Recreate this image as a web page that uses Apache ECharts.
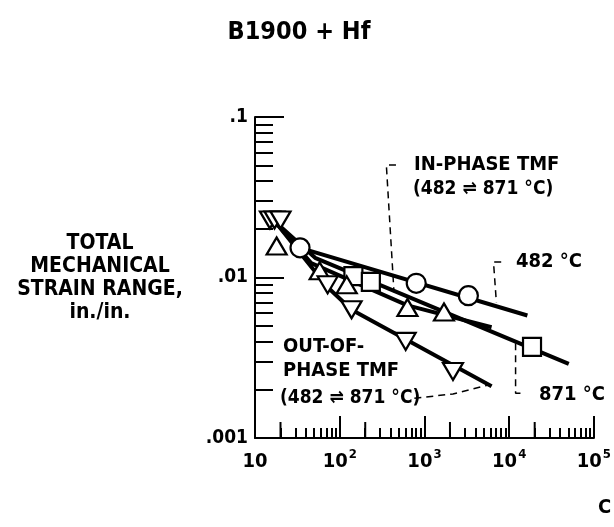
<!DOCTYPE html>
<html>
<head>
<meta charset="utf-8">
<script src="https://cdn.jsdelivr.net/npm/echarts@6/dist/echarts.min.js"></script>
<style>html,body{margin:0;padding:0;background:#fff}#c{width:614px;height:527px}</style>
</head>
<body>
<div id="c"></div>
<script>
// ---- data ----
const xTicks = [10, 100, 1000, 10000, 100000];
const xMidTicks = [20, 200, 2000, 20000];
const yTicks = [0.001, 0.01, 0.1];
const yTickLabels = ['.001', '.01', '.1'];

const circleN = [34, 800, 3300];
const circleS = [0.0153, 0.0092, 0.0077];
const squareN = [145, 233, 18600];
const squareS = [0.0102, 0.0094, 0.0037];
const upTriN = [18, 58, 121, 630, 1700];
const upTriS = [0.0157, 0.0110, 0.0090, 0.0065, 0.0061];
const downTriN = [15, 17, 20, 72, 138, 600, 2170];
const downTriS = [0.0228, 0.0228, 0.0228, 0.0090, 0.0063, 0.0040, 0.0026];

const line482N = [17.4, 34, 16400];
const line482S = [0.0222, 0.0153, 0.0058];
const line871N = [17.4, 52, 50500];
const line871S = [0.0222, 0.0132, 0.0029];
const lineInN = [17.4, 46, 630, 6200];
const lineInS = [0.0222, 0.0123, 0.0067, 0.0049];
const lineOutN = [17.4, 72, 138, 6200];
const lineOutS = [0.0222, 0.0087, 0.0063, 0.0021];

const leadInN = [461, 355, 437];
const leadInS = [0.0502, 0.0502, 0.0081];
const lead482N = [8050, 6530, 7060];
const lead482S = [0.0125, 0.0125, 0.0070];
const lead871N = [11900, 11900, 14400];
const lead871S = [0.0039, 0.0019, 0.0019];
const leadOutN = [760, 2170, 5730];
const leadOutS = [0.00177, 0.00188, 0.00214];

const FONT = '"DejaVu Sans Condensed", "Liberation Sans", sans-serif';

function pts(xs, ys) { return xs.map((x, i) => [x, ys[i]]); }

const chart = echarts.init(document.getElementById('c'), null, {renderer: 'canvas'});
const black = '#000';
const markerStyle = {color: '#fff', borderColor: black, borderWidth: 2.2, opacity: 1};
const fitLine = {color: black, width: 4, opacity: 1};
const dashLine = {color: black, width: 1.5, type: [7, 5], opacity: 1};

function lineSeries(xs, ys, style) {
  return {type: 'line', data: pts(xs, ys), showSymbol: false, symbol: 'none', lineStyle: style, z: 2, silent: true, animation: false};
}
function scat(xs, ys, symbol, size, rot) {
  return {type: 'scatter', data: pts(xs, ys), symbol: symbol, symbolSize: size, symbolRotate: rot || 0,
    itemStyle: markerStyle, z: 5, silent: true, animation: false};
}
function txt(text, size, x, y, align, vAlign, lh) {
  return {type: 'text', silent: true, style: {text: text, font: 'bold ' + size + 'px ' + FONT, fill: black,
    x: x, y: y, align: align || 'left', verticalAlign: vAlign || 'middle', lineHeight: lh}};
}

const option = {
  animation: false,
  grid: {left: 255, top: 117, right: 8, bottom: 89, containLabel: false},
  xAxis: {
    type: 'log', logBase: 10, min: 10, max: 100000,
    axisLine: {show: true, onZero: false, lineStyle: {color: black, width: 2}},
    axisTick: {show: true, inside: true, length: 22, lineStyle: {color: black, width: 2}},
    minorTick: {show: true, splitNumber: 9, length: 10, lineStyle: {color: black, width: 2}},
    splitLine: {show: false},
    axisLabel: {
      margin: 10, color: black,
      formatter: function (v) {
        const e = Math.round(Math.log10(v));
        return e === 1 ? '{b|10}' : '{b|10}{s|' + e + '}';
      },
      rich: {
        b: {fontFamily: FONT, fontWeight: 'bold', fontSize: 20, lineHeight: 24, verticalAlign: 'bottom'},
        s: {fontFamily: FONT, fontWeight: 'bold', fontSize: 13, lineHeight: 24, verticalAlign: 'top', padding: [0, 0, 0, 1]}
      }
    }
  },
  yAxis: {
    type: 'log', logBase: 10, min: 0.001, max: 0.1,
    axisLine: {show: true, onZero: false, lineStyle: {color: black, width: 2}},
    axisTick: {show: true, inside: true, length: 29, lineStyle: {color: black, width: 2}},
    minorTick: {show: true, splitNumber: 9, length: 18, lineStyle: {color: black, width: 2}},
    splitLine: {show: false},
    axisLabel: {
      margin: 7, color: black, fontFamily: FONT, fontWeight: 'bold', fontSize: 19,
      formatter: function (v) {
        const i = yTicks.findIndex(t => Math.abs(Math.log10(t) - Math.log10(v)) < 1e-6);
        return i >= 0 ? yTickLabels[i] : '';
      }
    }
  },
  series: [
    {
      type: 'custom', silent: true, z: 1, clip: false,
      data: xMidTicks.map(v => [v, yTicks[0]]),
      renderItem: function (params, api) {
        const p = api.coord([api.value(0), api.value(1)]);
        return {type: 'line', shape: {x1: p[0], y1: p[1], x2: p[0], y2: p[1] - 16},
          style: {stroke: black, lineWidth: 2}};
      }
    },
    lineSeries(line482N, line482S, fitLine),
    lineSeries(line871N, line871S, fitLine),
    lineSeries(lineInN, lineInS, fitLine),
    lineSeries(lineOutN, lineOutS, fitLine),
    lineSeries(leadInN, leadInS, dashLine),
    lineSeries(lead482N, lead482S, dashLine),
    lineSeries(lead871N, lead871S, dashLine),
    lineSeries(leadOutN, leadOutS, dashLine),
    scat(circleN, circleS, 'circle', 19),
    scat(squareN, squareS, 'rect', 18),
    scat(upTriN, upTriS, 'triangle', [20, 17]),
    scat(downTriN, downTriS, 'triangle', [20, 17], 180)
  ],
  graphic: [
    txt('B1900 + Hf', 25, 299, 32, 'center'),
    txt('TOTAL\nMECHANICAL\nSTRAIN RANGE,\nin./in.', 21, 100, 243.5 - 11.5, 'center', 'top', 23),
    txt('IN-PHASE TMF', 20, 414, 165),
    txt('(482 \u21CC 871 \u00B0C)', 19, 413, 189),
    txt('482 \u00B0C', 20, 516, 262),
    txt('871 \u00B0C', 20, 539, 395),
    txt('OUT-OF-\nPHASE TMF', 20, 283, 347 - 12, 'left', 'top', 24),
    txt('(482 \u21CC 871 \u00B0C)', 19, 280, 398),
    txt('C', 20, 598, 508)
  ]
};
chart.setOption(option);
</script>
</body>
</html>
